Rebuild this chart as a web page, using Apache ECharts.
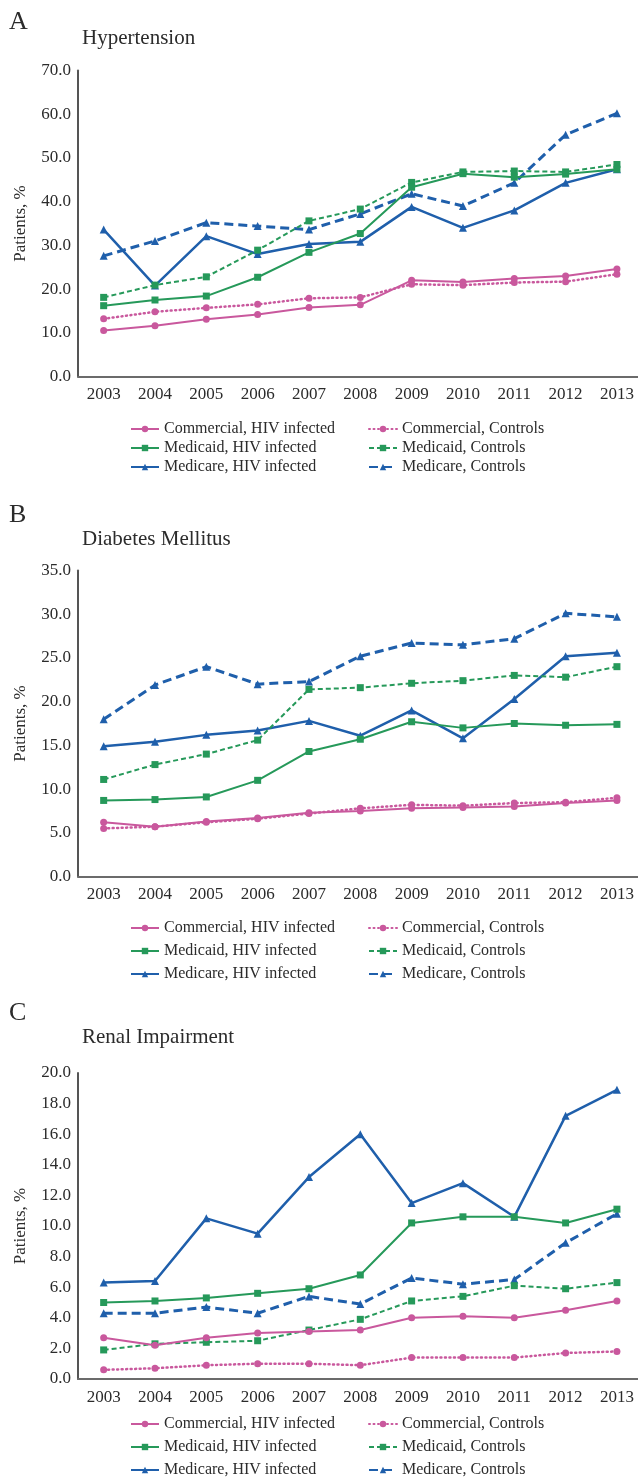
<!DOCTYPE html>
<html>
<head>
<meta charset="utf-8">
<script src="https://cdn.jsdelivr.net/npm/echarts@6/dist/echarts.min.js"></script>
<style>
  html, body { margin: 0; padding: 0; background: #fff; }
  #chart { width: 638px; height: 1479px; }
</style>
</head>
<body>
<div id="chart"></div>
<script>
// Category axis
const years = ['2003', '2004', '2005', '2006', '2007', '2008', '2009', '2010', '2011', '2012', '2013'];

// Series names
const names = [
  'Commercial, HIV infected', 'Commercial, Controls',
  'Medicaid, HIV infected', 'Medicaid, Controls',
  'Medicare, HIV infected', 'Medicare, Controls'
];

// Panel A – Hypertension (% of patients)
const htnCommercialHIV = [10.5, 11.6, 13.1, 14.2, 15.8, 16.4, 22.0, 21.6, 22.4, 23.0, 24.6];
const htnCommercialCtrl = [13.2, 14.8, 15.7, 16.5, 17.9, 18.1, 21.1, 20.9, 21.5, 21.7, 23.4];
const htnMedicaidHIV = [16.2, 17.5, 18.4, 22.7, 28.4, 32.7, 43.3, 46.4, 45.6, 46.3, 47.4];
const htnMedicaidCtrl = [18.1, 20.9, 22.8, 28.9, 35.6, 38.3, 44.4, 46.8, 47.0, 46.8, 48.5];
const htnMedicareHIV = [33.6, 20.8, 32.1, 28.0, 30.3, 30.8, 38.8, 34.0, 38.0, 44.3, 47.4];
const htnMedicareCtrl = [27.6, 31.0, 35.2, 34.4, 33.6, 37.2, 41.8, 39.0, 44.3, 55.3, 60.2];

// Panel B – Diabetes Mellitus
const dmCommercialHIV = [6.2, 5.7, 6.3, 6.7, 7.3, 7.5, 7.8, 7.9, 8.0, 8.4, 8.7];
const dmCommercialCtrl = [5.5, 5.7, 6.2, 6.6, 7.2, 7.8, 8.2, 8.1, 8.4, 8.5, 9.0];
const dmMedicaidHIV = [8.7, 8.8, 9.1, 11.0, 14.3, 15.7, 17.7, 17.0, 17.5, 17.3, 17.4];
const dmMedicaidCtrl = [11.1, 12.8, 14.0, 15.6, 21.4, 21.6, 22.1, 22.4, 23.0, 22.8, 24.0];
const dmMedicareHIV = [14.9, 15.4, 16.2, 16.7, 17.8, 16.1, 19.0, 15.8, 20.3, 25.2, 25.6];
const dmMedicareCtrl = [18.0, 21.9, 24.0, 22.0, 22.3, 25.2, 26.7, 26.5, 27.2, 30.1, 29.7];

// Panel C – Renal Impairment
const riCommercialHIV = [2.7, 2.2, 2.7, 3.0, 3.1, 3.2, 4.0, 4.1, 4.0, 4.5, 5.1];
const riCommercialCtrl = [0.6, 0.7, 0.9, 1.0, 1.0, 0.9, 1.4, 1.4, 1.4, 1.7, 1.8];
const riMedicaidHIV = [5.0, 5.1, 5.3, 5.6, 5.9, 6.8, 10.2, 10.6, 10.6, 10.2, 11.1];
const riMedicaidCtrl = [1.9, 2.3, 2.4, 2.5, 3.2, 3.9, 5.1, 5.4, 6.1, 5.9, 6.3];
const riMedicareHIV = [6.3, 6.4, 10.5, 9.5, 13.2, 16.0, 11.5, 12.8, 10.6, 17.2, 18.9];
const riMedicareCtrl = [4.3, 4.3, 4.7, 4.3, 5.4, 4.9, 6.6, 6.2, 6.5, 8.9, 10.8];

// Y axis ranges per panel
const yMax = [70, 35, 20];
const yStep = [10, 5, 2];
const panelLetters = ['A', 'B', 'C'];
const panelTitles = ['Hypertension', 'Diabetes Mellitus', 'Renal Impairment'];

const FONT = '"Liberation Serif", "DejaVu Serif", serif';
const TEXT = '#2b2b2b';
const PINK = '#c9589d';
const GREEN = '#26995a';
const BLUE = '#1f5fab';

// Visual style for each of the six groups
const styles = [
  { color: PINK, symbol: 'circle', width: 2, type: 'solid' },
  { color: PINK, symbol: 'circle', width: 2.5, type: [1, 3.5], cap: 'round' },
  { color: GREEN, symbol: 'rect', width: 2, type: 'solid' },
  { color: GREEN, symbol: 'rect', width: 2, type: [5, 3] },
  { color: BLUE, symbol: 'triangle', width: 2.5, type: 'solid' },
  { color: BLUE, symbol: 'triangle', width: 3, type: [9, 5] }
];

const panelData = [
  [htnCommercialHIV, htnCommercialCtrl, htnMedicaidHIV, htnMedicaidCtrl, htnMedicareHIV, htnMedicareCtrl],
  [dmCommercialHIV, dmCommercialCtrl, dmMedicaidHIV, dmMedicaidCtrl, dmMedicareHIV, dmMedicareCtrl],
  [riCommercialHIV, riCommercialCtrl, riMedicaidHIV, riMedicaidCtrl, riMedicareHIV, riMedicareCtrl]
];

// Layout of the three stacked panels
const gridTops = [70.5, 570.5, 1073];
const gridHeight = 306;
const letterY = [22, 515, 1013];
const titleY = [39, 540, 1038];
const legendTops = [421, 920, 1416];
const legendGaps = [3, 7, 7];

const grids = [], xAxes = [], yAxes = [], series = [], legends = [], graphics = [];

for (let p = 0; p < 3; p++) {
  grids.push({ left: 78, right: -4.6, top: gridTops[p], height: gridHeight, outerBoundsMode: 'none' });
  xAxes.push({
    type: 'category', gridIndex: p, data: years, boundaryGap: true,
    axisLine: { lineStyle: { color: '#6b6b6b', width: 2 } },
    axisTick: { show: false },
    axisLabel: { color: TEXT, fontFamily: FONT, fontSize: 17, margin: 10 },
    splitLine: { show: false }
  });
  yAxes.push({
    type: 'value', gridIndex: p, min: 0, max: yMax[p], interval: yStep[p],
    name: 'Patients, %', nameLocation: 'middle', nameRotate: 90, nameGap: 49,
    nameTextStyle: { color: TEXT, fontFamily: FONT, fontSize: 17 },
    axisLine: { show: true, lineStyle: { color: '#555', width: 2 } },
    axisTick: { show: false },
    axisLabel: { color: TEXT, fontFamily: FONT, fontSize: 17, margin: 7, formatter: v => v.toFixed(1) },
    splitLine: { show: false }
  });
  panelData[p].forEach((vals, i) => {
    const s = styles[i];
    series.push({
      name: names[i], type: 'line', xAxisIndex: p, yAxisIndex: p,
      data: vals, symbol: s.symbol, symbolSize: s.symbol === 'triangle' ? 8 : 7,
      showSymbol: true, silent: true,
      z: 10 - i,
      itemStyle: { color: s.color },
      lineStyle: { color: s.color, width: s.width, type: s.type, cap: s.cap || 'butt' }
    });
  });
  const legendCommon = {
    orient: 'vertical', top: legendTops[p], height: 90, itemWidth: 28, itemHeight: 8,
    itemGap: legendGaps[p], selectedMode: false, padding: 0,
    textStyle: { color: TEXT, fontFamily: FONT, fontSize: 16, lineHeight: 14 }
  };
  legends.push(Object.assign({}, legendCommon, { left: 130, data: [names[0], names[2], names[4]] }));
  legends.push(Object.assign({}, legendCommon, { left: 368, data: [names[1], names[3], names[5]] }));
  graphics.push({
    type: 'text', left: 9, top: letterY[p] - 13,
    style: { text: panelLetters[p], font: '26px ' + FONT, fill: TEXT }
  });
  graphics.push({
    type: 'text', left: 82, top: titleY[p] - 11,
    style: { text: panelTitles[p], font: '21px ' + FONT, fill: TEXT }
  });
}

const chart = echarts.init(document.getElementById('chart'), null, { renderer: 'canvas' });
chart.setOption({
  animation: false,
  backgroundColor: '#fff',
  grid: grids,
  xAxis: xAxes,
  yAxis: yAxes,
  legend: legends,
  graphic: graphics,
  series: series
});
</script>
</body>
</html>
